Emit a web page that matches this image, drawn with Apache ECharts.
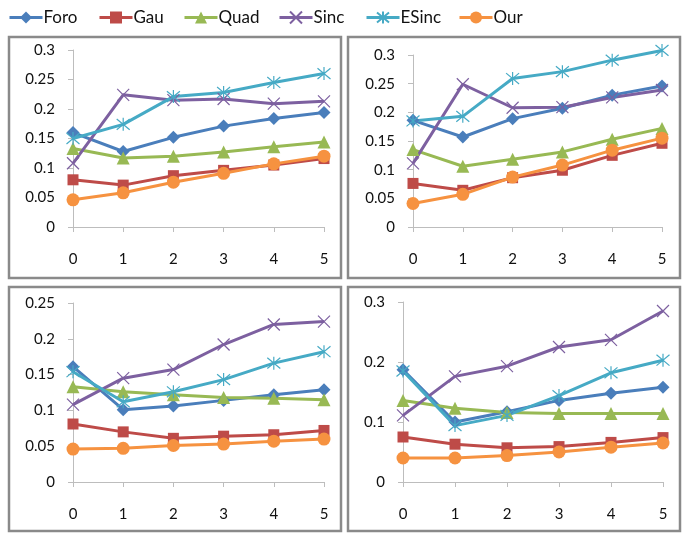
<!DOCTYPE html>
<html>
<head>
<meta charset="utf-8">
<script src="https://cdn.jsdelivr.net/npm/echarts@6/dist/echarts.min.js"></script>
<style>
  html, body { margin: 0; padding: 0; background: #fff; }
  #chart { width: 683px; height: 534px; }
</style>
</head>
<body>
<div id="chart"></div>
<script>
// x categories shared by all four panels
const categories = ["0", "1", "2", "3", "4", "5"];
const names = ["Foro", "Gau", "Quad", "Sinc", "ESinc", "Our"];

// panel 1 (top left)
const foro1 = [0.160, 0.128, 0.152, 0.171, 0.184, 0.194];
const gau1 = [0.080, 0.071, 0.087, 0.096, 0.105, 0.116];
const quad1 = [0.133, 0.117, 0.120, 0.127, 0.136, 0.144];
const sinc1 = [0.108, 0.224, 0.215, 0.217, 0.209, 0.213];
const esinc1 = [0.150, 0.174, 0.221, 0.228, 0.245, 0.260];
const our1 = [0.046, 0.058, 0.076, 0.091, 0.107, 0.120];

// panel 2 (top right)
const foro2 = [0.186, 0.157, 0.189, 0.207, 0.230, 0.246];
const gau2 = [0.076, 0.064, 0.086, 0.099, 0.125, 0.146];
const quad2 = [0.135, 0.106, 0.118, 0.131, 0.153, 0.172];
const sinc2 = [0.111, 0.249, 0.208, 0.209, 0.226, 0.239];
const esinc2 = [0.185, 0.193, 0.259, 0.271, 0.291, 0.308];
const our2 = [0.041, 0.057, 0.087, 0.108, 0.134, 0.155];

// panel 3 (bottom left)
const foro3 = [0.161, 0.101, 0.106, 0.114, 0.122, 0.129];
const gau3 = [0.081, 0.070, 0.061, 0.064, 0.066, 0.072];
const quad3 = [0.133, 0.126, 0.122, 0.118, 0.117, 0.115];
const sinc3 = [0.108, 0.145, 0.157, 0.192, 0.220, 0.224];
const esinc3 = [0.154, 0.112, 0.126, 0.143, 0.166, 0.182];
const our3 = [0.046, 0.047, 0.051, 0.053, 0.057, 0.060];

// panel 4 (bottom right)
const foro4 = [0.187, 0.100, 0.117, 0.136, 0.148, 0.158];
const gau4 = [0.075, 0.063, 0.057, 0.059, 0.066, 0.074];
const quad4 = [0.136, 0.123, 0.116, 0.114, 0.114, 0.114];
const sinc4 = [0.111, 0.176, 0.193, 0.225, 0.237, 0.285];
const esinc4 = [0.185, 0.094, 0.111, 0.144, 0.182, 0.203];
const our4 = [0.040, 0.040, 0.044, 0.050, 0.058, 0.065];

const panels = [
  [foro1, gau1, quad1, sinc1, esinc1, our1],
  [foro2, gau2, quad2, sinc2, esinc2, our2],
  [foro3, gau3, quad3, sinc3, esinc3, our3],
  [foro4, gau4, quad4, sinc4, esinc4, our4]
];

const colors = ["#4A7EBB", "#BE4B48", "#98B954", "#7D60A0", "#46AAC5", "#F69240"];
const symbols = [
  "diamond",
  "rect",
  "triangle",
  "path://M0,0L10,10M10,0L0,10",
  "path://M0,0L10,10M10,0L0,10M5,-1L5,11",
  "circle"
];
const symbolSizes = [13, 11, 13, 12, 13, 13];

const font = "Lato, 'Open Sans', sans-serif";

const grids = [
  { left: 73, top: 50, width: 251, height: 177 },
  { left: 413, top: 55, width: 249, height: 172 },
  { left: 73, top: 303, width: 251, height: 179 },
  { left: 403, top: 302, width: 260, height: 180 }
];
const yMax = [0.3, 0.3, 0.25, 0.3];
const yStep = [0.05, 0.05, 0.05, 0.1];

const boxes = [
  [9, 37, 332, 241],
  [348, 37, 332, 241],
  [9, 287, 332, 244],
  [348, 287, 332, 244]
];

// where each legend entry starts
const legendLeft = [8, 98, 183, 278, 365, 458];

const axisGray = "#BDBDBD";

const chart = echarts.init(document.getElementById("chart"));

const xAxes = grids.map((g, i) => ({
  type: "category",
  gridIndex: i,
  data: categories,
  boundaryGap: false,
  axisLine: { lineStyle: { color: axisGray, width: 1 } },
  axisTick: { alignWithLabel: true, length: 5, lineStyle: { color: axisGray } },
  axisLabel: { color: "#111", fontSize: 15, fontFamily: font, margin: 25 }
}));

const yAxes = grids.map((g, i) => ({
  type: "value",
  gridIndex: i,
  min: 0,
  max: yMax[i],
  interval: yStep[i],
  splitLine: { show: false },
  axisLine: { show: true, lineStyle: { color: axisGray, width: 1 } },
  axisTick: { show: true, length: 5, lineStyle: { color: axisGray } },
  axisLabel: { color: "#111", fontSize: 15, fontFamily: font, margin: 18 }
}));

const series = [];
panels.forEach((set, p) => {
  set.forEach((vals, k) => {
    series.push({
      name: names[k],
      type: "line",
      xAxisIndex: p,
      yAxisIndex: p,
      data: vals,
      clip: false,
      symbol: symbols[k],
      symbolSize: symbolSizes[k],
      showAllSymbol: true,
      lineStyle: { color: colors[k], width: 3 },
      itemStyle: {
        color: colors[k],
        borderColor: colors[k],
        borderWidth: k === 3 || k === 4 ? 1.2 : 0
      },
      emphasis: { disabled: true },
      animation: false
    });
  });
});

const legends = names.map((n, k) => ({
  data: [n],
  left: legendLeft[k],
  top: 9,
  padding: 0,
  itemWidth: 33,
  itemHeight: 15,
  lineStyle: { width: 3 },
  selectedMode: false,
  textStyle: { fontSize: 17, fontFamily: font, color: "#111", padding: [0, 0, 0, -4] }
}));

chart.setOption({
  backgroundColor: "#fff",
  legend: legends,
  grid: grids,
  xAxis: xAxes,
  yAxis: yAxes,
  graphic: boxes.map(b => ({
    type: "rect",
    shape: { x: b[0], y: b[1], width: b[2], height: b[3] },
    style: { fill: "none", stroke: "#8A8A8A", lineWidth: 2.5 },
    silent: true
  })),
  series: series
});
</script>
</body>
</html>
